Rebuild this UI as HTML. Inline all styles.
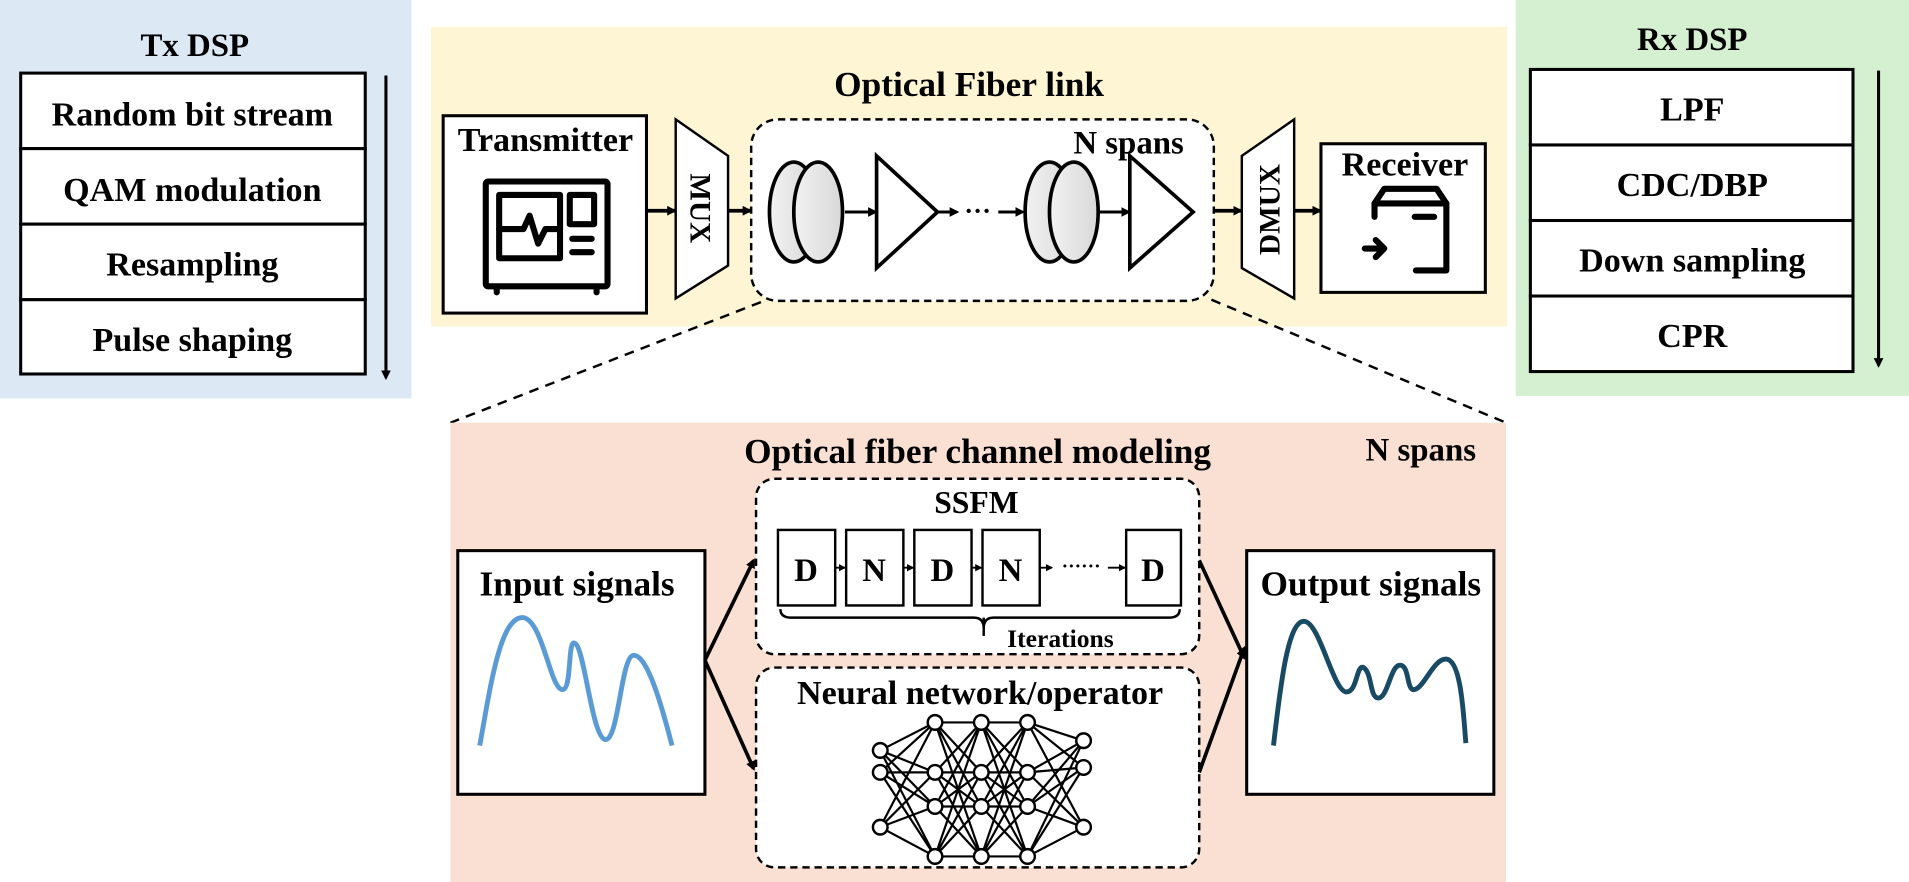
<!DOCTYPE html>
<html><head><meta charset="utf-8"><style>
html,body{margin:0;padding:0;background:#fff;}
svg{display:block;}
text{font-family:"Liberation Serif",serif;font-weight:bold;fill:#000;}
</style></head><body>
<svg width="1909" height="882" viewBox="0 0 1568 724" preserveAspectRatio="none" xmlns="http://www.w3.org/2000/svg">
<defs>
<marker id="ah" markerWidth="8" markerHeight="8" refX="6" refY="4" orient="auto" markerUnits="userSpaceOnUse"><path d="M0,0 L8,4 L0,8 z" fill="#000"/></marker>
<marker id="as" markerWidth="6" markerHeight="6" refX="5" refY="3" orient="auto" markerUnits="userSpaceOnUse"><path d="M0,0 L6,3 L0,6 z" fill="#000"/></marker>
<linearGradient id="cg" x1="0" x2="1"><stop offset="0" stop-color="#f2f2f2"/><stop offset="1" stop-color="#d8d8d8"/></linearGradient>
</defs>

<!-- Tx DSP -->
<rect x="0" y="0" width="338" height="327" fill="#dce9f5"/>
<text x="160" y="46" font-size="27" text-anchor="middle">Tx DSP</text>
<g fill="#fff" stroke="#000" stroke-width="2.5">
<rect x="17" y="60" width="283" height="62"/><rect x="17" y="122" width="283" height="62"/>
<rect x="17" y="184" width="283" height="62"/><rect x="17" y="246" width="283" height="61"/>
</g>
<g font-size="28" text-anchor="middle">
<text x="158" y="103">Random bit stream</text><text x="158" y="165">QAM modulation</text>
<text x="158" y="226">Resampling</text><text x="158" y="288">Pulse shaping</text>
</g>
<line x1="317" y1="62" x2="317" y2="310" stroke="#000" stroke-width="2.5" marker-end="url(#ah)"/>

<!-- Rx DSP -->
<rect x="1245" y="0" width="323" height="325" fill="#d5f0d0"/>
<text x="1390" y="41" font-size="27" text-anchor="middle">Rx DSP</text>
<g fill="#fff" stroke="#000" stroke-width="2.5">
<rect x="1257" y="57" width="265" height="62"/><rect x="1257" y="119" width="265" height="62"/>
<rect x="1257" y="181" width="265" height="62"/><rect x="1257" y="243" width="265" height="62"/>
</g>
<g font-size="28" text-anchor="middle">
<text x="1390" y="99">LPF</text><text x="1390" y="161">CDC/DBP</text>
<text x="1390" y="223">Down sampling</text><text x="1390" y="285">CPR</text>
</g>
<line x1="1543" y1="58" x2="1543" y2="300" stroke="#000" stroke-width="2.5" marker-end="url(#ah)"/>

<!-- Fiber link -->
<rect x="354" y="22" width="884" height="246" fill="#fdf5d3"/>
<text x="796" y="79" font-size="29" text-anchor="middle">Optical Fiber link</text>
<rect x="364" y="95" width="167" height="162" fill="#fff" stroke="#000" stroke-width="2.5"/>
<text x="448" y="124" font-size="28" text-anchor="middle">Transmitter</text>
<g stroke="#000" stroke-width="5" fill="none" stroke-linecap="round" stroke-linejoin="round">
<rect x="399" y="149" width="100" height="86" rx="2"/>
<rect x="410" y="160" width="50" height="52"/>
<path d="M410,188 L430,188 L435,177 L442,200 L448,188 L460,188"/>
<rect x="468" y="160" width="20" height="24"/>
<line x1="470" y1="196" x2="486" y2="196"/><line x1="470" y1="207" x2="486" y2="207"/>
<line x1="408" y1="236" x2="408" y2="240"/><line x1="490" y1="236" x2="490" y2="240"/>
</g>
<g stroke="#000" stroke-width="3" marker-end="url(#ah)">
<line x1="531" y1="173" x2="554" y2="173"/>
<line x1="598" y1="173" x2="616" y2="173"/>
<line x1="997" y1="173" x2="1019" y2="173"/>
<line x1="1063" y1="173" x2="1084" y2="173"/>
</g>
<path d="M555,98 L598,128 L598,218 L555,245 Z" fill="#fff" stroke="#000" stroke-width="2"/>
<text transform="translate(567,171) rotate(90)" font-size="24" text-anchor="middle">MUX</text>
<path d="M1063,98 L1020,128 L1020,220 L1063,245 Z" fill="#fff" stroke="#000" stroke-width="2"/>
<text transform="translate(1051,172) rotate(-90)" font-size="24" text-anchor="middle">DMUX</text>

<rect x="617" y="98" width="380" height="149" rx="22" fill="#fff" stroke="#000" stroke-width="2" stroke-dasharray="6,4"/>
<text x="927" y="126" font-size="27" text-anchor="middle">N spans</text>
<g stroke="#000" stroke-width="3" fill="url(#cg)">
<ellipse cx="652" cy="174" rx="20" ry="41"/><ellipse cx="672" cy="174" rx="20" ry="41"/>
<ellipse cx="862" cy="174" rx="20" ry="41"/><ellipse cx="882" cy="174" rx="20" ry="41"/>
</g>
<g stroke="#000" stroke-width="3" fill="#fff">
<path d="M720,128 L770,174 L720,220 Z"/><path d="M928,128 L980,174 L928,220 Z"/>
</g>
<g stroke="#000" stroke-width="2.5" marker-end="url(#ah)">
<line x1="694" y1="174" x2="719" y2="174"/>
<line x1="770" y1="174" x2="786" y2="174"/>
<line x1="820" y1="174" x2="840" y2="174"/>
<line x1="903" y1="174" x2="927" y2="174"/>
</g>
<text x="803" y="180" font-size="22" text-anchor="middle">···</text>

<rect x="1085" y="118" width="135" height="122" fill="#fff" stroke="#000" stroke-width="2.5"/>
<text x="1154" y="144" font-size="28" text-anchor="middle">Receiver</text>
<g stroke="#000" stroke-width="5" fill="none" stroke-linecap="round" stroke-linejoin="round">
<path d="M1129,178 L1129,167 L1137,155 L1180,155 L1188,167 L1188,222 L1163,222"/>
<line x1="1129" y1="167" x2="1188" y2="167"/>
<line x1="1162" y1="178" x2="1178" y2="178"/>
<path d="M1121,204 L1136,204 M1130,197 L1137,204 L1130,211"/>
</g>

<!-- dashed connectors -->
<g stroke="#000" stroke-width="2" stroke-dasharray="8,6">
<line x1="625" y1="248" x2="370" y2="347"/>
<line x1="995" y1="246" x2="1237" y2="347"/>
</g>

<!-- Modeling -->
<rect x="370" y="347" width="867" height="377" fill="#fae0d2"/>
<text x="803" y="380" font-size="29" text-anchor="middle">Optical fiber channel modeling</text>
<text x="1167" y="378" font-size="27" text-anchor="middle">N spans</text>

<rect x="621" y="393" width="364" height="144" rx="15" fill="#fff" stroke="#000" stroke-width="2" stroke-dasharray="6,4"/>
<text x="802" y="421" font-size="26" text-anchor="middle">SSFM</text>
<g fill="#fff" stroke="#000" stroke-width="2">
<rect x="639" y="435" width="47" height="62"/><rect x="695" y="435" width="47" height="62"/>
<rect x="751" y="435" width="47" height="62"/><rect x="807" y="435" width="47" height="62"/>
<rect x="925" y="435" width="45" height="62"/>
</g>
<g font-size="27" text-anchor="middle">
<text x="662" y="477">D</text><text x="718" y="477">N</text><text x="774" y="477">D</text><text x="830" y="477">N</text><text x="947" y="477">D</text>
</g>
<g stroke="#000" stroke-width="1.5" marker-end="url(#as)">
<line x1="686" y1="466" x2="694" y2="466"/><line x1="742" y1="466" x2="750" y2="466"/>
<line x1="798" y1="466" x2="806" y2="466"/><line x1="854" y1="466" x2="864" y2="466"/>
<line x1="910" y1="466" x2="924" y2="466"/>
</g>
<text x="888" y="470" font-size="16" text-anchor="middle">······</text>
<path d="M641,500 Q641,507 650,507 L800,507 Q808,507 808,516 Q808,507 816,507 L960,507 Q969,507 969,500" fill="none" stroke="#000" stroke-width="2"/>
<line x1="808" y1="507" x2="808" y2="522" stroke="#000" stroke-width="2"/>
<text x="871" y="531" font-size="21" text-anchor="middle">Iterations</text>

<rect x="621" y="548" width="364" height="164" rx="15" fill="#fff" stroke="#000" stroke-width="2" stroke-dasharray="6,4"/>
<text x="805" y="578" font-size="28" text-anchor="middle">Neural network/operator</text>
<g stroke="#000" stroke-width="1.8">
<path d="M723,616 L768,593 M723,616 L768,634 M723,616 L768,662 M723,616 L768,703 M723,634 L768,593 M723,634 L768,634 M723,634 L768,662 M723,634 L768,703 M723,679 L768,593 M723,679 L768,634 M723,679 L768,662 M723,679 L768,703"/>
<path d="M768,593 L806,593 M768,593 L806,634 M768,593 L806,662 M768,593 L806,703 M768,634 L806,593 M768,634 L806,634 M768,634 L806,662 M768,634 L806,703 M768,662 L806,593 M768,662 L806,634 M768,662 L806,662 M768,662 L806,703 M768,703 L806,593 M768,703 L806,634 M768,703 L806,662 M768,703 L806,703"/>
<path d="M806,593 L844,593 M806,593 L844,634 M806,593 L844,662 M806,593 L844,703 M806,634 L844,593 M806,634 L844,634 M806,634 L844,662 M806,634 L844,703 M806,662 L844,593 M806,662 L844,634 M806,662 L844,662 M806,662 L844,703 M806,703 L844,593 M806,703 L844,634 M806,703 L844,662 M806,703 L844,703"/>
<path d="M844,593 L890,608 M844,593 L890,630 M844,593 L890,679 M844,634 L890,608 M844,634 L890,630 M844,634 L890,679 M844,662 L890,608 M844,662 L890,630 M844,662 L890,679 M844,703 L890,608 M844,703 L890,630 M844,703 L890,679"/>
</g>
<g fill="#fff" stroke="#000" stroke-width="2">
<circle cx="723" cy="616" r="6"/><circle cx="723" cy="634" r="6"/><circle cx="723" cy="679" r="6"/>
<circle cx="768" cy="593" r="6"/><circle cx="768" cy="634" r="6"/><circle cx="768" cy="662" r="6"/><circle cx="768" cy="703" r="6"/>
<circle cx="806" cy="593" r="6"/><circle cx="806" cy="634" r="6"/><circle cx="806" cy="662" r="6"/><circle cx="806" cy="703" r="6"/>
<circle cx="844" cy="593" r="6"/><circle cx="844" cy="634" r="6"/><circle cx="844" cy="662" r="6"/><circle cx="844" cy="703" r="6"/>
<circle cx="890" cy="608" r="6"/><circle cx="890" cy="630" r="6"/><circle cx="890" cy="679" r="6"/>
</g>

<rect x="376" y="452" width="203" height="200" fill="#fff" stroke="#000" stroke-width="2.5"/>
<text x="474" y="489" font-size="29" text-anchor="middle">Input signals</text>
<path d="M394,612 C402,570 410,505 430,507 C446,510 452,566 462,566 C470,566 466,525 472,528 C480,530 486,605 497,607 C508,609 510,540 520,538 C532,536 545,585 552,612" fill="none" stroke="#5b9bd5" stroke-width="4"/>

<rect x="1024" y="452" width="203" height="200" fill="#fff" stroke="#000" stroke-width="2.5"/>
<text x="1126" y="489" font-size="29" text-anchor="middle">Output signals</text>
<path d="M1046,612 C1052,560 1058,510 1071,510 C1084,510 1095,568 1106,568 C1115,568 1114,545 1120,548 C1127,552 1125,573 1132,573 C1140,573 1142,546 1150,546 C1158,546 1155,568 1162,566 C1170,564 1178,540 1188,541 C1200,542 1202,585 1204,610" fill="none" stroke="#184a63" stroke-width="4"/>

<g stroke="#000" stroke-width="3" marker-end="url(#ah)">
<line x1="579" y1="542" x2="619" y2="460"/>
<line x1="579" y1="542" x2="619" y2="631"/>
<line x1="985" y1="460" x2="1022" y2="540"/>
<line x1="985" y1="634" x2="1022" y2="532"/>
</g>
</svg>
</body></html>
